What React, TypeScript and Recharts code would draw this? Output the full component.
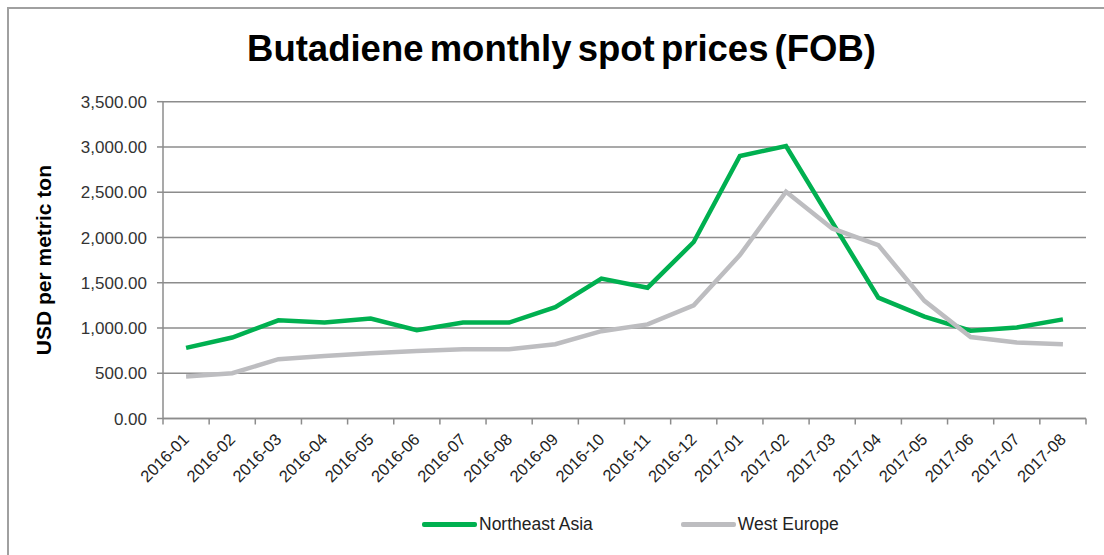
import React from 'react';
import { LineChart, Line, XAxis, YAxis, CartesianGrid, Label } from 'recharts';

const months = [
  '2016-01', '2016-02', '2016-03', '2016-04', '2016-05', '2016-06', '2016-07',
  '2016-08', '2016-09', '2016-10', '2016-11', '2016-12', '2017-01', '2017-02',
  '2017-03', '2017-04', '2017-05', '2017-06', '2017-07', '2017-08',
];
const northeastAsia = [780, 895, 1085, 1060, 1105, 975, 1060, 1060, 1230, 1545, 1445, 1950, 2900, 3010, 2170, 1335, 1125, 970, 1005, 1095];
const westEurope = [465, 500, 655, 690, 720, 745, 765, 765, 820, 965, 1040, 1250, 1805, 2505, 2100, 1915, 1300, 900, 840, 820];
const yTicks = [0, 500, 1000, 1500, 2000, 2500, 3000, 3500];

const series = [
  { key: 'ne', name: 'Northeast Asia', color: '#00B050' },
  { key: 'we', name: 'West Europe', color: '#BDBDC0' },
];

// each month sits in the middle of its slot, ticks on slot edges (Excel style)
const data = months.map((m, i) => ({ pos: i + 0.5, month: m, ne: northeastAsia[i], we: westEurope[i] }));
const xTicks = months.flatMap((_, i) => [i, i + 0.5]).concat(months.length);

const fmt = (v: number) => v.toLocaleString('en-US', { minimumFractionDigits: 2, maximumFractionDigits: 2 });

const XTick = (props: any) => {
  const { x, y, payload } = props;
  const v = payload.value;
  if (Number.isInteger(v)) {
    return <line x1={x} x2={x} y1={y} y2={y + 6} stroke="#8c8c8c" strokeWidth={1.5} />;
  }
  const label = months[Math.floor(v)];
  const ax = x + 4;
  const ay = y + 22;
  return (
    <text
      x={ax}
      y={ay}
      textAnchor="end"
      fontSize={16.5}
      fill="#222"
      fontFamily="'Liberation Sans', Arial, sans-serif"
      transform={`rotate(-45 ${ax} ${ay})`}
    >
      {label}
    </text>
  );
};

export default function App() {
  return (
    <div style={{ position: 'absolute', left: 0, top: 0, width: 1104, height: 555, background: '#fff', fontFamily: "'Liberation Sans', Arial, sans-serif", overflow: 'hidden' }}>
      <div style={{ position: 'absolute', left: 7, top: 7, right: -4, bottom: -4, borderTop: '2px solid #a0a0a0', borderLeft: '2px solid #a0a0a0' }} />
      <div style={{ position: 'absolute', left: 0, top: 31, width: 1123, textAlign: 'center', fontSize: 36.5, lineHeight: '36px', fontWeight: 'bold', color: '#000', wordSpacing: -4 }}>
        Butadiene monthly spot prices (FOB)
      </div>
      <div style={{ position: 'absolute', left: 0, top: 0 }}>
        <LineChart width={1104} height={555} data={data} margin={{ top: 101.7, right: 18, bottom: 56.5, left: 0 }}>
          <CartesianGrid vertical={false} stroke="#8c8c8c" strokeWidth={1.5} />
          <XAxis
            dataKey="pos"
            type="number"
            domain={[0, months.length]}
            ticks={xTicks}
            interval={0}
            tick={<XTick />}
            tickLine={false}
            tickSize={0}
            tickMargin={0}
            axisLine={{ stroke: '#8c8c8c', strokeWidth: 1.5 }}
            height={80}
          />
          <YAxis
            width={163}
            domain={[0, 3500]}
            ticks={yTicks}
            interval={0}
            tickFormatter={fmt}
            tickSize={6}
            tickMargin={10}
            tickLine={{ stroke: '#8c8c8c', strokeWidth: 1.5 }}
            axisLine={{ stroke: '#8c8c8c', strokeWidth: 1.5 }}
            tick={{ fill: '#333', fontSize: 17 }}
          >
            <Label value="USD per metric ton" angle={-90} position="insideLeft" offset={44} style={{ fontSize: 21, fontWeight: 'bold', fill: '#000', textAnchor: 'middle' }} />
          </YAxis>
          {series.map((s) => (
            <Line key={s.key} type="linear" dataKey={s.key} name={s.name} stroke={s.color} strokeWidth={4.5} dot={false} isAnimationActive={false} />
          ))}
        </LineChart>
      </div>
      <div style={{ position: 'absolute', left: 422, top: 513, display: 'flex', alignItems: 'center', fontSize: 17.5, color: '#222', lineHeight: '22px' }}>
        {series.map((s, i) => (
          <div key={s.key} style={{ display: 'flex', alignItems: 'center', marginRight: i === 0 ? 88 : 0 }}>
            <div style={{ width: 55, height: 5, background: s.color, borderRadius: 2, marginRight: 2 }} />
            <span>{s.name}</span>
          </div>
        ))}
      </div>
    </div>
  );
}
